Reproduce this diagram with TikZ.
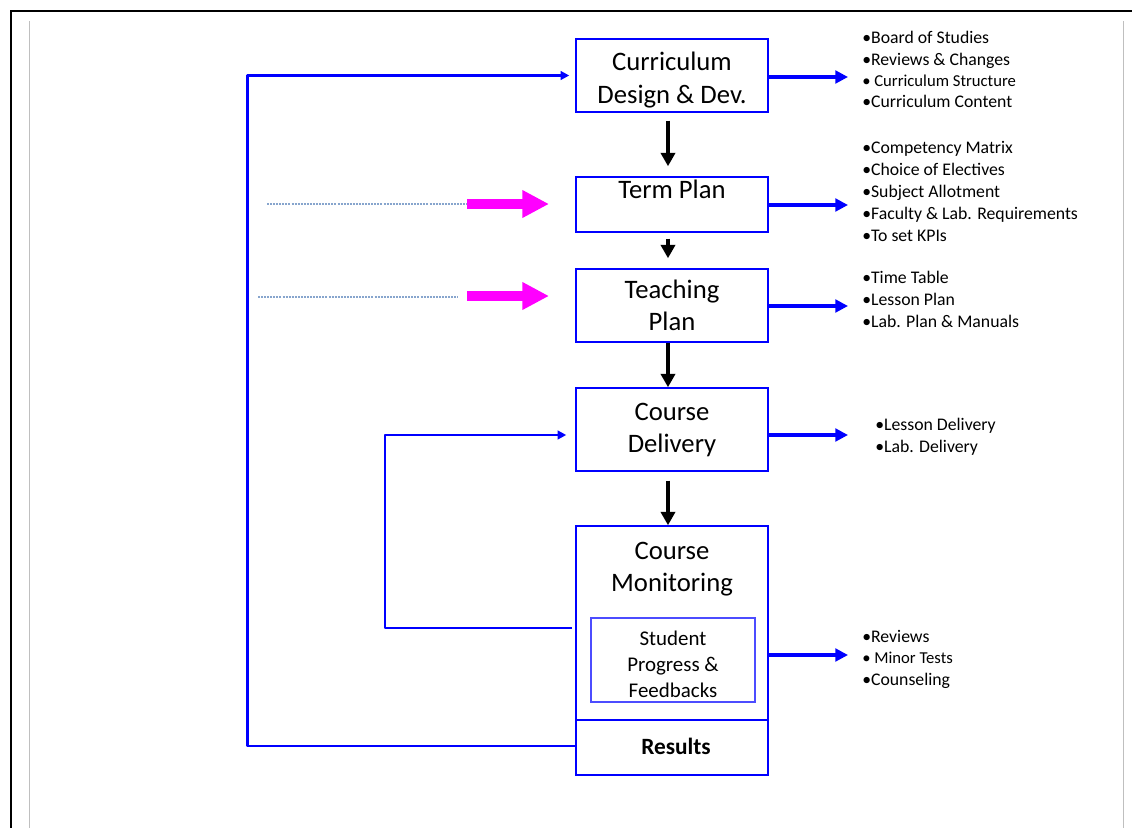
\documentclass[tikz,border=0pt]{standalone}
\usepackage{fontspec}
\setmainfont{Carlito}
\usetikzlibrary{arrows.meta}

\definecolor{pinkish}{RGB}{255,0,255}
\definecolor{dotblue}{RGB}{135,165,205}

\tikzset{
  stage/.style={draw=blue, line width=1.1pt, minimum width=144pt, inner sep=0pt, align=center},
  flow/.style={black, line width=2.6pt, -{Triangle[length=10pt,width=10.5pt]}},
  outarrow/.style={blue, line width=2.3pt, -{Triangle[length=9.5pt,width=9.5pt]}},
  feedback/.style={blue, line width=2pt, line join=round, -{Triangle[length=6.5pt,width=6.5pt]}},
  pinkarrow/.style={pinkish, line width=7.5pt, -{Triangle[length=20pt,width=19.5pt]}},
  dotline/.style={draw=dotblue, line width=.8pt, dash pattern=on 1.5pt off .8pt},
  listitem/.style={anchor=base west, inner sep=0pt, font=\fontsize{13.3}{16}\selectfont},
  smallitem/.style={listitem, font=\fontsize{12.5}{15}\selectfont}
}

\begin{document}
\begin{tikzpicture}[x=.75pt, y=-.75pt, font=\fontsize{20}{24}\selectfont]
\useasboundingbox (0,0) rectangle (1132,828);

% page frame
\draw[black, line width=1.5pt] (10.5,828) -- (10.5,11) -- (1132,11);
\draw[black!25] (29.5,21) -- (29.5,828);
\draw[black!25] (1123.5,21) -- (1123.5,828);

% stages
\node[stage, minimum height=54.75pt] (cdd) at (672,75.5) {};
\node[align=center, font=\fontsize{20}{24.5}\selectfont] (cddtxt) at (672,80) {Curriculum\\Design \& Dev.};
\node[stage, minimum height=41.25pt] (tp) at (672,204.5) {};
\node[anchor=base] (tptxt) at (672,198) {Term Plan};
\node[stage, minimum height=54.75pt] (teach) at (672,305.5) {Teaching\\Plan};
\node[stage, minimum height=62.25pt] (del) at (672,429.5) {Course\\Delivery};
\node[stage, minimum height=186.75pt] (mon) at (672,650.5) {};
\node[align=center] (montxt) at (672,569) {Course\\Monitoring};
\node[draw=blue!70, line width=.8pt, minimum width=123pt, minimum height=63pt] (spf) at (673,660) {};
\node[align=center, font=\fontsize{15.7}{19.5}\selectfont] (spftxt) at (673,664) {Student\\Progress \&\\Feedbacks};
\coordinate (div) at (672,720);
\draw[blue, line width=1.1pt] (mon.west |- div) -- (mon.east |- div);
\node[font=\fontsize{17.5}{20}\selectfont\bfseries] (res) at (676,746) {Results};

% main flow
\draw[flow] ([xshift=-3pt,yshift=-6pt]cdd.south) -- ([xshift=-3pt,yshift=7.5pt]tp.north);
\draw[flow] ([xshift=-3pt,yshift=-4.5pt]tp.south) -- ([xshift=-3pt,yshift=7.5pt]teach.north);
\draw[flow] ([xshift=-3pt]teach.south) -- ([xshift=-3pt]del.north);
\draw[flow] ([xshift=-3pt,yshift=-6.75pt]del.south) -- ([xshift=-3pt]mon.north);

% outputs
\coordinate (o1) at (848,77);
\coordinate (o2) at (848,205);
\coordinate (o3) at (848,306);
\coordinate (o4) at (848,435);
\coordinate (o5) at (848,655);
\foreach \b/\o in {cdd/o1, tp/o2, teach/o3, del/o4, mon/o5}
  \draw[outarrow] (\b.east |- \o) -- (\o);

\foreach \t [count=\i] in {\textbullet Board of Studies, \textbullet Reviews \& Changes}
  \node[listitem] (cddl\i) at (862,43+22*\i-22) {\t};
\node[smallitem] (cddl3) at (862,86) {\textbullet\ Curriculum Structure};
\node[listitem] (cddl4) at (862,107) {\textbullet Curriculum Content};
\foreach \t [count=\i] in {Competency Matrix, Choice of Electives, Subject Allotment, Faculty \& Lab. Requirements, To set KPIs}
  \node[listitem] (tpl\i) at (862,153+22*\i-22) {\textbullet\t};
\foreach \t [count=\i] in {Time Table, Lesson Plan, Lab. Plan \& Manuals}
  \node[listitem] (teachl\i) at (862,283+22*\i-22) {\textbullet\t};
\foreach \t [count=\i] in {Lesson Delivery, Lab. Delivery}
  \node[listitem] (dell\i) at (875,430+22*\i-22) {\textbullet\t};
\node[listitem] (monl1) at (862,642) {\textbullet Reviews};
\node[smallitem] (monl2) at (862,663) {\textbullet\ Minor Tests};
\node[listitem] (monl3) at (862,685) {\textbullet Counseling};

% feedback loops
\draw[feedback] (mon.west |- res) -- ++(-328,0) |- ([xshift=-4.5pt]cdd.west);
\coordinate (fb) at (572,628);
\draw[feedback] (fb) -- ++(-187,0) |- ([xshift=-6.75pt]del.west |- o4);

% inputs
\coordinate (d1) at (267,204);
\coordinate (p1) at (467,204);
\coordinate (t1) at (549,204);
\coordinate (d2) at (258,297);
\coordinate (e2) at (458,297);
\coordinate (p2) at (467,296);
\coordinate (t2) at (549,296);
\draw[dotline] (d1) -- (p1);
\draw[pinkarrow] (p1) -- (t1);
\draw[dotline] (d2) -- (e2);
\draw[pinkarrow] (p2) -- (t2);

\end{tikzpicture}
\end{document}
